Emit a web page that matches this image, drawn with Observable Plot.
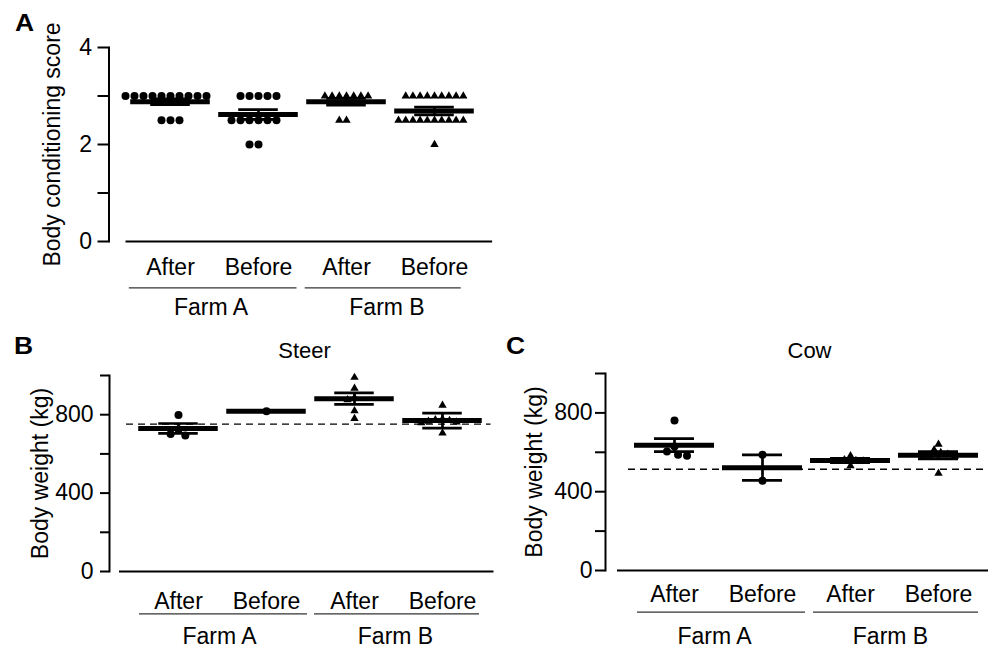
<!DOCTYPE html>
<html><head><meta charset="utf-8">
<script src="https://cdn.jsdelivr.net/npm/d3@7"></script>
<script src="https://cdn.jsdelivr.net/npm/@observablehq/plot@0.6"></script>
<style>
body{margin:0;background:#fff;}
#fig{position:relative;width:991px;height:648px;overflow:hidden;font-family:"Liberation Sans",Arial,sans-serif;background:#fff;}
.panel{position:absolute;}
.letter{position:absolute;font-weight:bold;font-size:23px;line-height:23px;transform:scaleX(1.15);transform-origin:left top;}
</style></head><body>
<div id="fig">
  <div class="panel" id="pA" style="left:0px;top:0px"></div>
  <div class="panel" id="pB" style="left:0px;top:330px"></div>
  <div class="panel" id="pC" style="left:495px;top:330px"></div>
  <div class="letter" style="left:15px;top:12px">A</div>
  <div class="letter" style="left:14px;top:335px">B</div>
  <div class="letter" style="left:506px;top:335px">C</div>
</div>
<script>
// ---- categories ----
const farms = ["Farm A", "Farm B"];
const times = ["After", "Before"];
const groups = farms.flatMap(f => times.map(t => f + "|" + t));

// ---- Panel A: body conditioning score ----
const bcsFarmAAfter  = [3,3,3,3,3,3,3,3,3,3,2.5,2.5,2.5];
const bcsFarmABefore = [3,3,3,3,3,2.5,2.5,2.5,2.5,2.5,2.5,2,2];
const bcsFarmBAfter  = [3,3,3,3,3,3,3,2.5,2.5];
const bcsFarmBBefore = [3,3,3,3,3,3,3,3,3,2.5,2.5,2.5,2.5,2.5,2.5,2.5,2.5,2.5,2.5,2];
const bcsMean = [2.88, 2.62, 2.88, 2.69];
const bcsSem  = [0.06, 0.10, 0.07, 0.08];
const bcsTicks = [0, 1, 2, 3, 4];

// ---- Panel B: steer body weight (kg) ----
const steerFarmAAfter  = [798, 724, 702, 694];
const steerFarmABefore = [818];
const steerFarmBAfter  = [990, 935, 886, 876, 820, 780];
const steerFarmBBefore = [848, 778, 774, 770, 766, 762, 758, 706];
const steerMean = [730, 818, 882, 770];
const steerSem  = [25, 0, 29, 38];
const steerRef  = 752;

// ---- Panel C: cow body weight (kg) ----
const cowFarmAAfter  = [762, 629, 604, 587, 582];
const cowFarmABefore = [587, 456];
const cowFarmBAfter  = [582, 562, 558, 555, 531];
const cowFarmBBefore = [641, 612, 598, 590, 585, 580, 575, 493];
const cowMean = [636, 522, 558, 585];
const cowSem  = [33, 65, 11, 18];
const cowRef  = 514;
const kgTicks = [0, 200, 400, 600, 800, 1000];

const FONT = "'Liberation Sans', Arial, sans-serif";

function panel(cfg) {
  const {series, mean, sem, ref, yDomain, yTicks, labelStep, yLabel, title, L} = cfg;
  const points = series.flatMap((arr, i) => arr.map(v => ({g: groups[i], farm: farms[Math.floor(i / 2)], v})));
  const summary = groups.map((g, i) => ({g, mean: mean[i], sem: sem[i]}));
  const y0 = yDomain[0];
  const step = (L.width - L.mL - L.mR) / groups.length;
  const marks = [];
  // y axis line and ticks (offset from frame like the original)
  marks.push(Plot.frame({anchor: "left", facetAnchor: "left", dx: L.axisDx, strokeWidth: 2}));
  marks.push(Plot.axisY({ticks: yTicks, tickFormat: d => (d % labelStep === 0 ? String(d) : ""),
    tickSize: L.tickSize, tickPadding: L.tickPadding, dx: L.axisDx, strokeWidth: 2, fontSize: 23, label: null}));
  // x axis line (drawn from the first facet across all of them)
  marks.push(Plot.ruleY([groups[0]], {fx: d => d, y: () => y0, insetLeft: L.axL,
    insetRight: -(groups.length - 1) * step + L.axR, strokeWidth: 2}));
  // reference dashed line
  if (ref != null) marks.push(Plot.ruleY([groups[0]], {fx: d => d, y: () => ref, insetLeft: L.refL,
    insetRight: -(groups.length - 1) * step + L.refR, strokeWidth: 1.3, strokeDasharray: "7,5"}));
  // individual animals
  marks.push(Plot.dot(points.filter(d => d.farm === farms[0]),
    Plot.dodgeX("middle", {fx: "g", y: "v", r: 4, padding: 0.5, fill: "black", symbol: "circle"})));
  marks.push(Plot.dot(points.filter(d => d.farm === farms[1]),
    Plot.dodgeX("middle", {fx: "g", y: "v", r: 3.1, padding: 1.9, fill: "black", symbol: "triangle"})));
  // mean and SEM
  marks.push(Plot.tickY(summary, {fx: "g", y: "mean", strokeWidth: 5, insetLeft: L.meanInset, insetRight: L.meanInset}));
  marks.push(Plot.tickY(summary, {fx: "g", y: d => d.mean + d.sem, strokeWidth: 2.7, insetLeft: L.capInset, insetRight: L.capInset}));
  marks.push(Plot.tickY(summary, {fx: "g", y: d => d.mean - d.sem, strokeWidth: 2.7, insetLeft: L.capInset, insetRight: L.capInset}));
  marks.push(Plot.ruleX(summary, {fx: "g", x: null, y1: d => d.mean - d.sem, y2: d => d.mean + d.sem, strokeWidth: 2.7}));
  // category labels
  marks.push(Plot.axisFx({anchor: "bottom", tickSize: 0, tickPadding: L.fxPad, fontSize: 23,
    tickFormat: g => g.split("|")[1], label: null}));
  // farm underlines and labels
  farms.forEach((f, fi) => {
    marks.push(Plot.ruleY([groups[fi * 2]], {fx: d => d, y: () => y0, dy: L.ulDy, insetLeft: L.ul[fi][0], insetRight: 0, stroke: "#333", strokeWidth: 1.2}));
    marks.push(Plot.ruleY([groups[fi * 2 + 1]], {fx: d => d, y: () => y0, dy: L.ulDy, insetLeft: 0, insetRight: L.ul[fi][1], stroke: "#333", strokeWidth: 1.2}));
  });
  marks.push(Plot.text([groups[0], groups[2]], {fx: d => d, text: d => d.split("|")[0], frameAnchor: "bottom-right",
    textAnchor: "middle", lineAnchor: "top", dy: L.farmDy, dx: L.farmDx, fontSize: 23}));
  // y label
  marks.push(Plot.text([yLabel], {facet: "super", frameAnchor: "left", rotate: -90, textAnchor: "middle",
    lineAnchor: "top", dx: L.yLabDx, fontSize: 23}));
  if (title) marks.push(Plot.text([title], {facet: "super", frameAnchor: "top", lineAnchor: "middle",
    dx: L.titleDx, dy: L.titleDy, fontSize: 22}));
  return Plot.plot({
    width: L.width, height: L.height,
    marginLeft: L.mL, marginRight: L.mR, marginTop: L.mT, marginBottom: L.mB,
    fx: {domain: groups, padding: 0, axis: null},
    y: {domain: yDomain, axis: null},
    style: {fontFamily: FONT, fontSize: "23px", color: "black", background: "transparent", overflow: "visible"},
    marks
  });
}

document.getElementById("pA").appendChild(panel({
  series: [bcsFarmAAfter, bcsFarmABefore, bcsFarmBAfter, bcsFarmBBefore],
  mean: bcsMean, sem: bcsSem, ref: null, yDomain: [0, 4], yTicks: bcsTicks, labelStep: 2,
  yLabel: "Body conditioning score", title: null,
  L: {width: 500, height: 330, mL: 125.5, mR: 21, mT: 47, mB: 89, axisDx: -17.5, tickSize: 11, tickPadding: 6,
      axL: -0.5, axR: -13, refL: 0, refR: 0, meanInset: 4.2, capInset: 24.2, fxPad: 17, ulDy: 46.3, farmDy: 57.3, farmDx: -3.5,
      ul: [[2.8, 5.5], [2.75, 17.3]], yLabDx: -82.5}
}));

document.getElementById("pB").appendChild(panel({
  series: [steerFarmAAfter, steerFarmABefore, steerFarmBAfter, steerFarmBBefore],
  mean: steerMean, sem: steerSem, ref: steerRef, yDomain: [0, 1000], yTicks: kgTicks, labelStep: 400,
  yLabel: "Body weight (kg)", title: "Steer",
  L: {width: 495, height: 318, mL: 133, mR: 8, mT: 45, mB: 77, axisDx: -25, tickSize: 9, tickPadding: 7,
      axL: -15, axR: -6, refL: -8, refR: -3, meanInset: 4.25, capInset: 24.25, fxPad: 20.7, ulDy: 42.3, farmDy: 55.7, farmDx: -3,
      ul: [[5, 3], [4, 7]], yLabDx: -103, titleDx: -6, titleDy: -25}
}));

document.getElementById("pC").appendChild(panel({
  series: [cowFarmAAfter, cowFarmABefore, cowFarmBAfter, cowFarmBBefore],
  mean: cowMean, sem: cowSem, ref: cowRef, yDomain: [0, 1000], yTicks: kgTicks, labelStep: 400,
  yLabel: "Body weight (kg)", title: "Cow",
  L: {width: 496, height: 318, mL: 135, mR: 9, mT: 43, mB: 78, axisDx: -25, tickSize: 10, tickPadding: 3,
      axL: -13, axR: -6, refL: -2, refR: -4, meanInset: 4, capInset: 24, fxPad: 15, ulDy: 41.7, farmDy: 56.7, farmDx: -4,
      ul: [[7, 1], [7, 4]], yLabDx: -105, titleDx: 3, titleDy: -23}
}));
</script>
</body></html>
